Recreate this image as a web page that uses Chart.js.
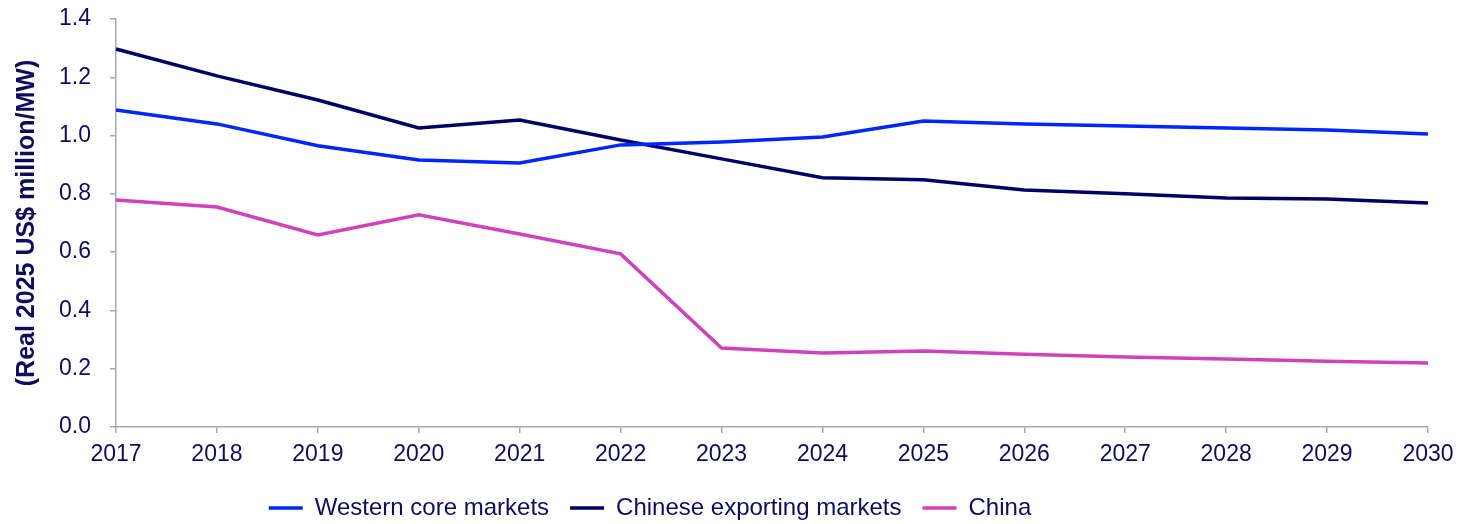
<!DOCTYPE html>
<html>
<head>
<meta charset="utf-8">
<script src="https://cdn.jsdelivr.net/npm/chart.js@4"></script>
<style>
  html, body { margin: 0; padding: 0; background: #fff; }
  #wrap { width: 1459px; height: 524px; position: relative; }
</style>
</head>
<body>
<div id="wrap"><canvas id="costChart"></canvas></div>
<script>
// Data
const years = ['2017', '2018', '2019', '2020', '2021', '2022', '2023', '2024', '2025', '2026', '2027', '2028', '2029', '2030'];
const westernCore = [1.088, 1.040, 0.965, 0.916, 0.906, 0.968, 0.978, 0.995, 1.050, 1.040, 1.033, 1.026, 1.019, 1.005];
const chineseExporting = [1.297, 1.205, 1.122, 1.026, 1.053, 0.985, 0.920, 0.855, 0.848, 0.813, 0.800, 0.786, 0.782, 0.769];
const china = [0.779, 0.755, 0.659, 0.728, 0.662, 0.594, 0.271, 0.254, 0.261, 0.250, 0.240, 0.233, 0.226, 0.220];
const yTicks = [0, 0.2, 0.4, 0.6, 0.8, 1.0, 1.2, 1.4];

const textColor = '#0d0d5c';
const axisColor = '#a7a7b9';
Chart.defaults.font.family = '"Liberation Sans", Arial, sans-serif';
Chart.defaults.font.size = 23;
Chart.defaults.color = textColor;

// legend: fixed row height, slid left so it sits under the plot
const legendShift = {
    id: 'legendShift',
    beforeLayout(chart) {
        const lg = chart.legend;
        if (lg && !lg._fixedFit) {
            const fit = lg.fit.bind(lg);
            lg.fit = function () { fit(); this.height = 52; };
            lg._fixedFit = true;
        }
    },
    afterLayout(chart) {
        const lg = chart.legend;
        lg.left -= 64;
        lg.right -= 64;
        lg.top += 3;
        lg.bottom += 3;
    }
};

function series(label, data, color) {
    return {
        label: label,
        data: data,
        borderColor: color,
        backgroundColor: color,
        borderWidth: 3.5,
        pointRadius: 0,
        tension: 0
    };
}

const ctx = document.getElementById('costChart').getContext('2d');
const costChart = new Chart(ctx, {
    type: 'line',
    data: {
        labels: years,
        datasets: [
            series('Western core markets', westernCore, '#0026ff'),
            series('Chinese exporting markets', chineseExporting, '#000066'),
            series('China', china, '#d042b9')
        ]
    },
    options: {
        responsive: true,
        maintainAspectRatio: false,
        animation: false,
        layout: { padding: { left: 0, right: 31, top: 19, bottom: 0 } },
        plugins: {
            tooltip: { enabled: false },
            legend: {
                position: 'bottom',
                labels: {
                    usePointStyle: true,
                    pointStyle: 'line',
                    pointStyleWidth: 34,
                    padding: 21,
                    color: textColor,
                    font: { size: 24 }
                }
            }
        },
        scales: {
            x: {
                offset: false,
                border: { color: axisColor, width: 1.5 },
                grid: { drawOnChartArea: false, color: axisColor, tickLength: 6, lineWidth: 1.5 },
                ticks: { padding: 8, maxRotation: 0, autoSkip: false },
                afterFit(scale) {
                    scale.height = 45;
                    scale.paddingLeft = 0;
                    scale.paddingRight = 0;
                }
            },
            y: {
                min: 0,
                max: 1.4,
                border: { color: axisColor, width: 1.5 },
                grid: { drawOnChartArea: false, color: axisColor, tickLength: 6, lineWidth: 1.5 },
                afterBuildTicks(scale) { scale.ticks = yTicks.map(v => ({ value: v })); },
                ticks: {
                    padding: 19,
                    callback: v => v.toFixed(1)
                },
                title: {
                    display: true,
                    text: '(Real 2025 US$ million/MW)',
                    font: { size: 25, weight: 'bold' },
                    padding: { top: 12, bottom: 0 }
                },
                afterFit(scale) {
                    scale.width = 116;
                    scale.paddingTop = 0;
                    scale.paddingBottom = 0;
                }
            }
        }
    },
    plugins: [legendShift]
});
</script>
</body>
</html>
